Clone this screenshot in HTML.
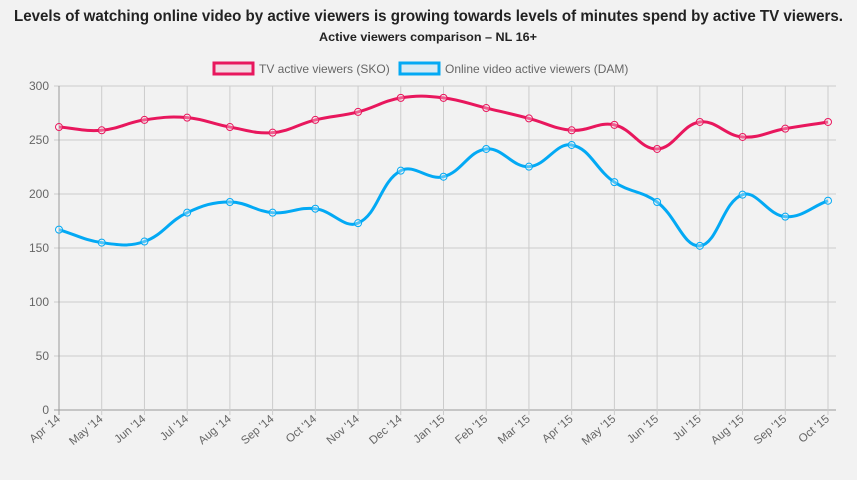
<!DOCTYPE html>
<html><head><meta charset="utf-8"><style>
body{margin:0;background:#f2f2f2;width:857px;height:475px;overflow:hidden;font-family:"Liberation Sans",sans-serif}
</style></head><body>
<svg width="857" height="475" xmlns="http://www.w3.org/2000/svg">
<text x="14" y="21" textLength="829" lengthAdjust="spacingAndGlyphs" font-size="16" font-weight="bold" fill="#222">Levels of watching online video by active viewers is growing towards levels of minutes spend by active TV viewers.</text>
<text x="319" y="41" textLength="218" lengthAdjust="spacingAndGlyphs" font-size="12" font-weight="bold" fill="#222">Active viewers comparison – NL 16+</text>
<g>
<rect x="214" y="63" width="39" height="11" fill="rgba(232,23,93,0.1)" stroke="#e8175d" stroke-width="3"/>
<text x="259" y="73" font-size="12" fill="#666">TV active viewers (SKO)</text></g>
<g>
<rect x="400" y="63" width="39" height="11" fill="rgba(3,169,244,0.1)" stroke="#03a9f4" stroke-width="3"/>
<text x="445" y="73" font-size="12" fill="#666">Online video active viewers (DAM)</text></g>
<g id="grid"></g><g id="series"></g>
</svg>
<script>
const categories=["Apr '14","May '14","Jun '14","Jul '14","Aug '14","Sep '14","Oct '14","Nov '14","Dec '14","Jan '15","Feb '15","Mar '15","Apr '15","May '15","Jun '15","Jul '15","Aug '15","Sep '15","Oct '15"];
const tvValues=[262,259,268.6,270.7,262,256.8,268.6,276,289,289,279.6,270,259,264,241.7,266.7,252.8,260.5,266.7];
const damValues=[167,155,156,182.7,192.6,182.7,186.4,173,221.6,216,241.7,225.3,245.4,211,192.6,152,199.4,179,193.8];
const yTicks=[0,50,100,150,200,250,300];
const NS="http://www.w3.org/2000/svg";
const X0=59,X1=828,Y0=410,Y300=86;
const xs=i=>X0+(X1-X0)*i/(categories.length-1);
const ys=v=>Y0-(Y0-Y300)*v/300;
const grid=document.getElementById('grid'),ser=document.getElementById('series');
function mk(tag,attrs,parent){const e=document.createElementNS(NS,tag);for(const k in attrs)e.setAttribute(k,attrs[k]);parent.appendChild(e);return e;}
yTicks.forEach(t=>{
 const l=mk('line',{x1:X0-5,x2:X1+8,y1:ys(t),y2:ys(t),stroke:t===0?'#999':'#ccc','stroke-width':1},grid);
 
 
 const tx=mk('text',{x:X0-10,y:ys(t)+4,'text-anchor':'end','font-size':12,fill:'#666'},grid);
 tx.textContent=t;
 
 
});
categories.forEach((c,i)=>{
 const l=mk('line',{x1:xs(i),x2:xs(i),y1:Y300,y2:Y0+5,stroke:i===0?'#999':'#ccc','stroke-width':1},grid);
 
 
 const tx=mk('text',{x:xs(i)+2,y:Y0+10,'text-anchor':'end','font-size':11.5,fill:'#666',transform:`rotate(-40 ${xs(i)+2} ${Y0+10})`},grid);
 tx.textContent=c;
 
 
});
function path(vals){
 const p=vals.map((v,i)=>[xs(i),ys(v)]);const t=0.4;let d=`M${p[0][0]},${p[0][1]}`;
 const cps=p.map((pt,i)=>{const pr=p[Math.max(0,i-1)],nx=p[Math.min(p.length-1,i+1)];
  const d01=Math.hypot(pt[0]-pr[0],pt[1]-pr[1]),d12=Math.hypot(nx[0]-pt[0],nx[1]-pt[1]);
  const fa=t*d01/(d01+d12||1),fb=t*d12/(d01+d12||1);
  return {p:[pt[0]-fa*(nx[0]-pr[0]),pt[1]-fa*(nx[1]-pr[1])],n:[pt[0]+fb*(nx[0]-pr[0]),pt[1]+fb*(nx[1]-pr[1])]};});
 for(let i=1;i<p.length;i++)d+=` C${cps[i-1].n[0]},${cps[i-1].n[1]} ${cps[i].p[0]},${cps[i].p[1]} ${p[i][0]},${p[i][1]}`;
 return d;}
[[tvValues,'#e8175d','tv'],[damValues,'#03a9f4','dam']].forEach(([vals,col,nm])=>{
 const pa=mk('path',{d:path(vals),fill:'none',stroke:col,'stroke-width':3},ser);
 
 
 vals.forEach((v,i)=>{
  const c=mk('circle',{cx:xs(i),cy:ys(v),r:3.5,fill:'rgba(255,255,255,0.3)',stroke:col,'stroke-width':1},ser);
  
  
 });
});
</script>
</body></html>
